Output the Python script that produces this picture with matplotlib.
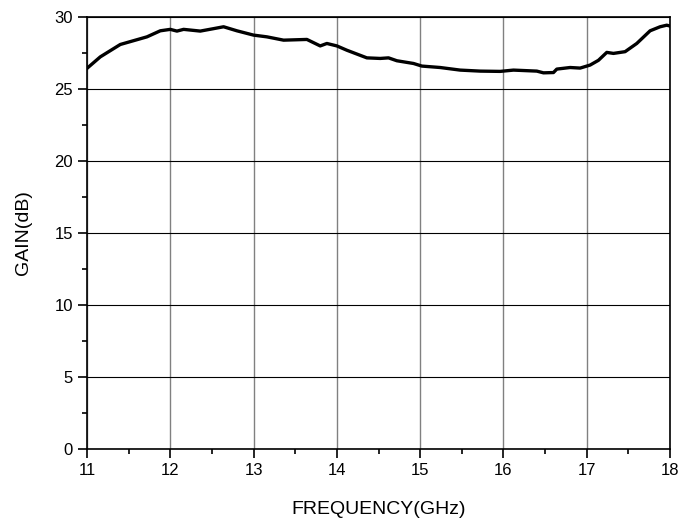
import matplotlib.pyplot as plt
from matplotlib.ticker import MultipleLocator

plt.rcParams['font.family'] = ['Liberation Sans', 'DejaVu Sans']

# gain curve
freq = [11.0, 11.16, 11.40, 11.72, 11.88, 12.0, 12.08, 12.16, 12.36, 12.52,
        12.64, 12.80, 13.0, 13.16, 13.36, 13.64, 13.80, 13.88, 14.0, 14.12,
        14.36, 14.52, 14.62, 14.72, 14.92, 15.02, 15.24, 15.48, 15.72, 15.96,
        16.12, 16.40, 16.48, 16.60, 16.64, 16.80, 16.92, 17.04, 17.14, 17.24,
        17.32, 17.46, 17.60, 17.76, 17.88, 17.96, 18.0]
gain = [26.44, 27.24, 28.1, 28.63, 29.05, 29.15, 29.03, 29.15, 29.03, 29.2,
        29.33, 29.05, 28.75, 28.63, 28.4, 28.45, 28.0, 28.17, 28.0, 27.7,
        27.17, 27.13, 27.17, 26.97, 26.78, 26.6, 26.5, 26.32, 26.25, 26.23,
        26.32, 26.25, 26.13, 26.15, 26.39, 26.5, 26.46, 26.67, 27.0, 27.55,
        27.48, 27.6, 28.17, 29.05, 29.33, 29.44, 29.38]

fig = plt.figure(figsize=(6.98, 5.19), dpi=100)
ax = fig.add_axes([0.1246, 0.1349, 0.8354, 0.8321])

ax.plot(freq, gain, color='black', lw=2.4, zorder=3)

ax.set_xlim(11, 18)
ax.set_ylim(0, 30)
ax.xaxis.set_major_locator(MultipleLocator(1))
ax.xaxis.set_minor_locator(MultipleLocator(0.5))
ax.yaxis.set_major_locator(MultipleLocator(5))
ax.yaxis.set_minor_locator(MultipleLocator(2.5))
ax.tick_params(which='both', direction='out', width=1.2, labelsize=12)
ax.tick_params(which='major', length=6.5)
ax.tick_params(which='minor', length=3.5)

ax.grid(axis='x', which='major', color='#808080', lw=1)
ax.grid(axis='y', which='major', color='black', lw=0.8)
for s in ax.spines.values():
    s.set_linewidth(1.2)

ax.set_xlabel('FREQUENCY(GHz)', fontsize=14, labelpad=17)
ax.set_ylabel('GAIN(dB)', fontsize=14, labelpad=16)

fig.savefig('out.png', dpi=100)
